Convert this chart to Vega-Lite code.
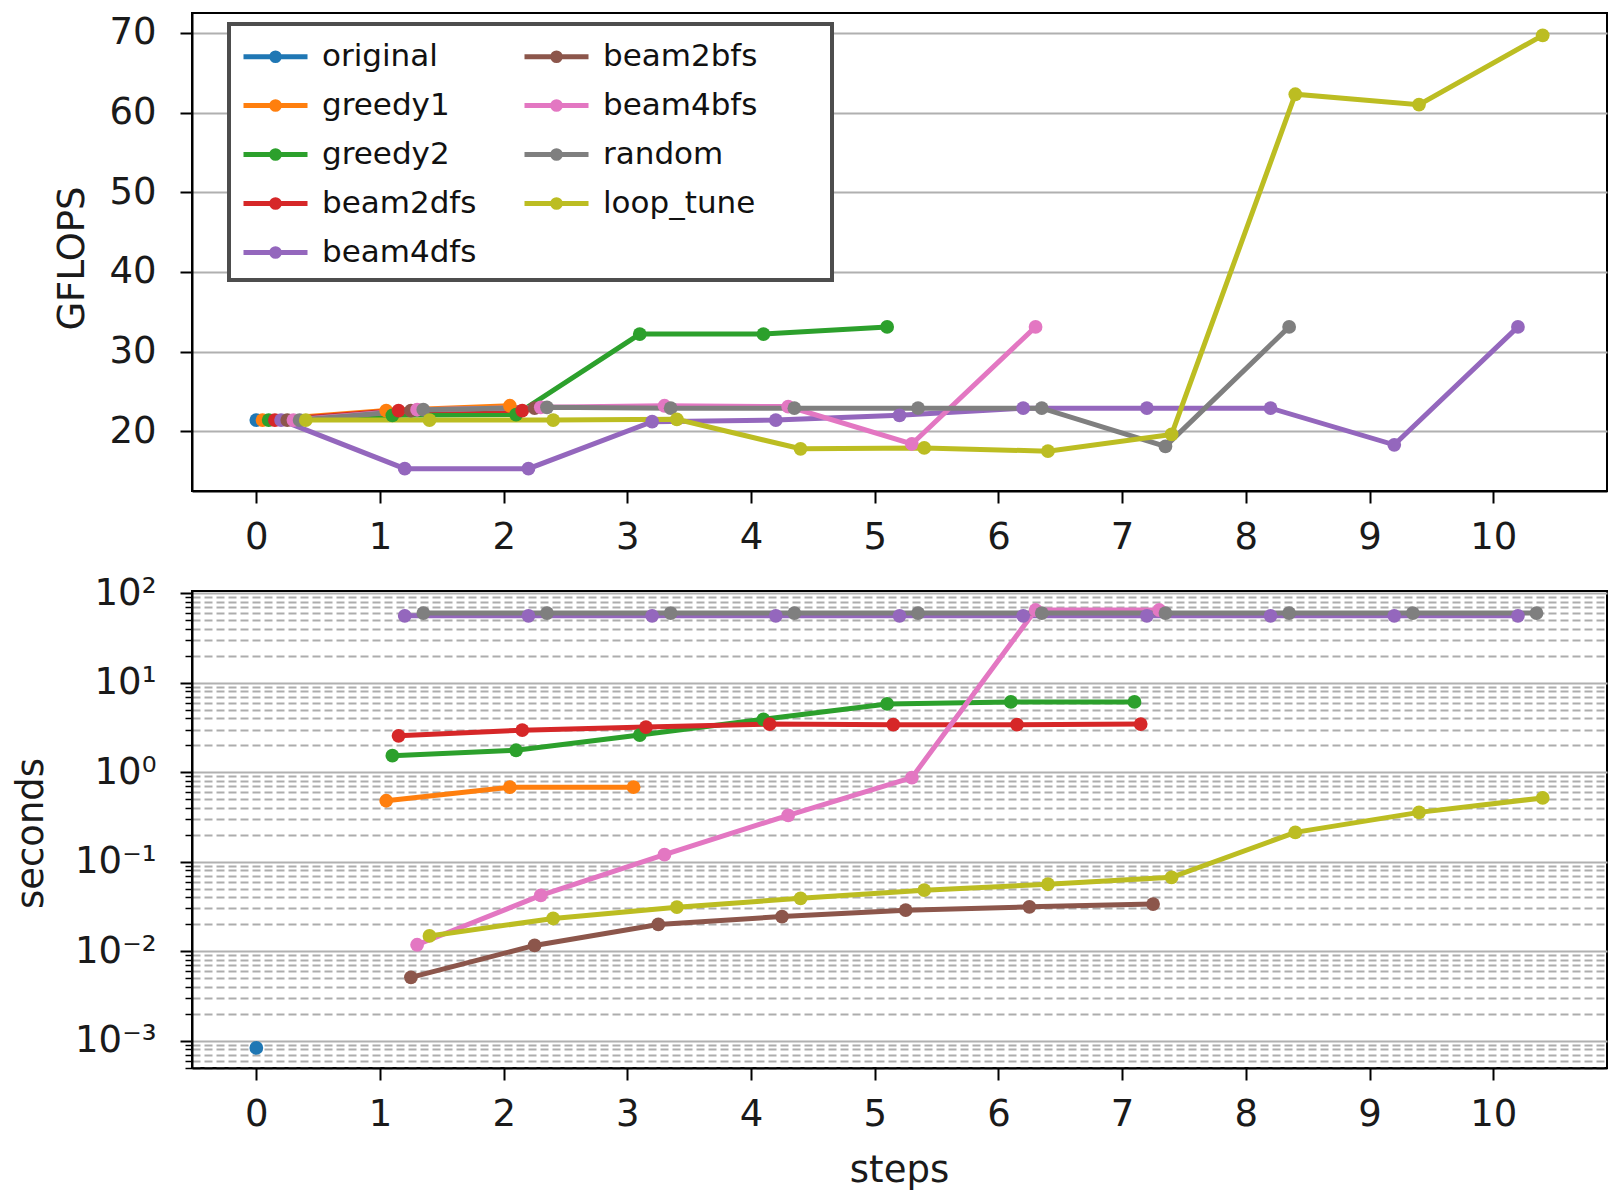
{
  "$schema": "https://vega.github.io/schema/vega-lite/v6.json",
  "background": "white",
  "padding": {"left": 10, "top": 12, "right": 9, "bottom": 5},
  "bounds": "flush",
  "spacing": 100,
  "config": {
    "font": "DejaVu Sans",
    "view": {"stroke": "black", "strokeWidth": 2},
    "axis": {
      "labelFont": "DejaVu Sans", "labelFontSize": 37, "labelColor": "#1a1a1a",
      "titleFont": "DejaVu Sans", "titleFontSize": 37, "titleFontWeight": "normal", "titleColor": "#1a1a1a",
      "tickColor": "black", "tickWidth": 2, "tickSize": 12,
      "domainColor": "black", "domainWidth": 2,
      "gridColor": "#b0b0b0", "gridWidth": 2
    }
  },
  "datasets": {
    "gflops": [
      {"method": "original", "x": 0, "gflops": 21.4},
      {"method": "greedy1", "x": 0.05, "gflops": 21.4},
      {"method": "greedy1", "x": 1.05, "gflops": 22.6},
      {"method": "greedy1", "x": 2.05, "gflops": 23.2},
      {"method": "greedy2", "x": 0.1, "gflops": 21.4},
      {"method": "greedy2", "x": 1.1, "gflops": 22.0},
      {"method": "greedy2", "x": 2.1, "gflops": 22.1},
      {"method": "greedy2", "x": 3.1, "gflops": 32.2},
      {"method": "greedy2", "x": 4.1, "gflops": 32.2},
      {"method": "greedy2", "x": 5.1, "gflops": 33.1},
      {"method": "beam2dfs", "x": 0.15, "gflops": 21.4},
      {"method": "beam2dfs", "x": 1.15, "gflops": 22.6},
      {"method": "beam2dfs", "x": 2.15, "gflops": 22.6},
      {"method": "beam4dfs", "x": 0.2, "gflops": 21.4},
      {"method": "beam4dfs", "x": 1.2, "gflops": 15.3},
      {"method": "beam4dfs", "x": 2.2, "gflops": 15.3},
      {"method": "beam4dfs", "x": 3.2, "gflops": 21.2},
      {"method": "beam4dfs", "x": 4.2, "gflops": 21.4},
      {"method": "beam4dfs", "x": 5.2, "gflops": 22.0},
      {"method": "beam4dfs", "x": 6.2, "gflops": 22.9},
      {"method": "beam4dfs", "x": 7.2, "gflops": 22.9},
      {"method": "beam4dfs", "x": 8.2, "gflops": 22.9},
      {"method": "beam4dfs", "x": 9.2, "gflops": 18.3},
      {"method": "beam4dfs", "x": 10.2, "gflops": 33.1},
      {"method": "beam2bfs", "x": 0.25, "gflops": 21.4},
      {"method": "beam2bfs", "x": 1.25, "gflops": 22.6},
      {"method": "beam2bfs", "x": 2.25, "gflops": 22.9},
      {"method": "beam4bfs", "x": 0.3, "gflops": 21.4},
      {"method": "beam4bfs", "x": 1.3, "gflops": 22.7},
      {"method": "beam4bfs", "x": 2.3, "gflops": 23.0},
      {"method": "beam4bfs", "x": 3.3, "gflops": 23.2},
      {"method": "beam4bfs", "x": 4.3, "gflops": 23.1},
      {"method": "beam4bfs", "x": 5.3, "gflops": 18.4},
      {"method": "beam4bfs", "x": 6.3, "gflops": 33.1},
      {"method": "random", "x": 0.35, "gflops": 21.4},
      {"method": "random", "x": 1.35, "gflops": 22.7},
      {"method": "random", "x": 2.35, "gflops": 23.0},
      {"method": "random", "x": 3.35, "gflops": 22.9},
      {"method": "random", "x": 4.35, "gflops": 22.9},
      {"method": "random", "x": 5.35, "gflops": 22.9},
      {"method": "random", "x": 6.35, "gflops": 22.9},
      {"method": "random", "x": 7.35, "gflops": 18.1},
      {"method": "random", "x": 8.35, "gflops": 33.1},
      {"method": "loop_tune", "x": 0.4, "gflops": 21.4},
      {"method": "loop_tune", "x": 1.4, "gflops": 21.4},
      {"method": "loop_tune", "x": 2.4, "gflops": 21.4},
      {"method": "loop_tune", "x": 3.4, "gflops": 21.5},
      {"method": "loop_tune", "x": 4.4, "gflops": 17.8},
      {"method": "loop_tune", "x": 5.4, "gflops": 17.9},
      {"method": "loop_tune", "x": 6.4, "gflops": 17.5},
      {"method": "loop_tune", "x": 7.4, "gflops": 19.6},
      {"method": "loop_tune", "x": 8.4, "gflops": 62.3},
      {"method": "loop_tune", "x": 9.4, "gflops": 61.0},
      {"method": "loop_tune", "x": 10.4, "gflops": 69.7}
    ],
    "seconds": [
      {"method": "original", "x": 0, "sec": 0.00083},
      {"method": "greedy1", "x": 1.05, "sec": 0.48},
      {"method": "greedy1", "x": 2.05, "sec": 0.68},
      {"method": "greedy1", "x": 3.05, "sec": 0.68},
      {"method": "greedy2", "x": 1.1, "sec": 1.53},
      {"method": "greedy2", "x": 2.1, "sec": 1.76},
      {"method": "greedy2", "x": 3.1, "sec": 2.6},
      {"method": "greedy2", "x": 4.1, "sec": 3.9},
      {"method": "greedy2", "x": 5.1, "sec": 5.8},
      {"method": "greedy2", "x": 6.1, "sec": 6.1},
      {"method": "greedy2", "x": 7.1, "sec": 6.1},
      {"method": "beam2dfs", "x": 1.15, "sec": 2.55},
      {"method": "beam2dfs", "x": 2.15, "sec": 2.95},
      {"method": "beam2dfs", "x": 3.15, "sec": 3.2},
      {"method": "beam2dfs", "x": 4.15, "sec": 3.45},
      {"method": "beam2dfs", "x": 5.15, "sec": 3.4},
      {"method": "beam2dfs", "x": 6.15, "sec": 3.4},
      {"method": "beam2dfs", "x": 7.15, "sec": 3.45},
      {"method": "beam4dfs", "x": 1.2, "sec": 56},
      {"method": "beam4dfs", "x": 2.2, "sec": 56},
      {"method": "beam4dfs", "x": 3.2, "sec": 56},
      {"method": "beam4dfs", "x": 4.2, "sec": 56},
      {"method": "beam4dfs", "x": 5.2, "sec": 56},
      {"method": "beam4dfs", "x": 6.2, "sec": 56},
      {"method": "beam4dfs", "x": 7.2, "sec": 56},
      {"method": "beam4dfs", "x": 8.2, "sec": 56},
      {"method": "beam4dfs", "x": 9.2, "sec": 56},
      {"method": "beam4dfs", "x": 10.2, "sec": 56},
      {"method": "beam2bfs", "x": 1.25, "sec": 0.0051},
      {"method": "beam2bfs", "x": 2.25, "sec": 0.0116},
      {"method": "beam2bfs", "x": 3.25, "sec": 0.0199},
      {"method": "beam2bfs", "x": 4.25, "sec": 0.0244},
      {"method": "beam2bfs", "x": 5.25, "sec": 0.0287},
      {"method": "beam2bfs", "x": 6.25, "sec": 0.0313},
      {"method": "beam2bfs", "x": 7.25, "sec": 0.0336},
      {"method": "beam4bfs", "x": 1.3, "sec": 0.0118},
      {"method": "beam4bfs", "x": 2.3, "sec": 0.042},
      {"method": "beam4bfs", "x": 3.3, "sec": 0.12},
      {"method": "beam4bfs", "x": 4.3, "sec": 0.33},
      {"method": "beam4bfs", "x": 5.3, "sec": 0.87},
      {"method": "beam4bfs", "x": 6.3, "sec": 65},
      {"method": "beam4bfs", "x": 7.3, "sec": 65},
      {"method": "random", "x": 1.35, "sec": 60},
      {"method": "random", "x": 2.35, "sec": 60},
      {"method": "random", "x": 3.35, "sec": 60},
      {"method": "random", "x": 4.35, "sec": 60},
      {"method": "random", "x": 5.35, "sec": 60},
      {"method": "random", "x": 6.35, "sec": 60},
      {"method": "random", "x": 7.35, "sec": 60},
      {"method": "random", "x": 8.35, "sec": 60},
      {"method": "random", "x": 9.35, "sec": 60},
      {"method": "random", "x": 10.35, "sec": 60},
      {"method": "loop_tune", "x": 1.4, "sec": 0.0148},
      {"method": "loop_tune", "x": 2.4, "sec": 0.0232},
      {"method": "loop_tune", "x": 3.4, "sec": 0.031},
      {"method": "loop_tune", "x": 4.4, "sec": 0.039},
      {"method": "loop_tune", "x": 5.4, "sec": 0.048},
      {"method": "loop_tune", "x": 6.4, "sec": 0.056},
      {"method": "loop_tune", "x": 7.4, "sec": 0.067},
      {"method": "loop_tune", "x": 8.4, "sec": 0.213},
      {"method": "loop_tune", "x": 9.4, "sec": 0.356},
      {"method": "loop_tune", "x": 10.4, "sec": 0.516}
    ]
  },
  "resolve": {"legend": {"color": "independent"}},
  "vconcat": [
    {
      "width": 1415,
      "height": 478,
      "data": {"name": "gflops"},
      "mark": {"type": "line", "strokeWidth": 5, "point": {"filled": true, "size": 190}},
      "encoding": {
        "x": {
          "field": "x", "type": "quantitative",
          "scale": {"domain": [-0.52, 10.92], "nice": false, "zero": false},
          "axis": {"values": [0, 1, 2, 3, 4, 5, 6, 7, 8, 9, 10], "grid": false, "title": null, "labelFlush": false, "labelPadding": 16}
        },
        "y": {
          "field": "gflops", "type": "quantitative",
          "scale": {"domain": [12.5, 72.5], "nice": false, "zero": false},
          "axis": {"values": [20, 30, 40, 50, 60, 70], "grid": true, "title": "GFLOPS", "titleX": -120, "titleY": 245, "titleBaseline": "middle", "labelPadding": 24}
        },
        "color": {
          "field": "method", "type": "nominal",
          "scale": {
            "domain": ["original", "greedy1", "greedy2", "beam2dfs", "beam4dfs", "beam2bfs", "beam4bfs", "random", "loop_tune"],
            "range": ["#1f77b4", "#ff7f0e", "#2ca02c", "#d62728", "#9467bd", "#8c564b", "#e377c2", "#7f7f7f", "#bcbd22"]
          },
          "legend": {
            "title": null, "orient": "none", "legendX": 37, "legendY": 11, "columns": 2,
            "strokeColor": "#4d4d4d", "fillColor": "white", "padding": 12,
            "labelFont": "DejaVu Sans", "labelFontSize": 31, "labelColor": "#111111", "labelLimit": 400,
            "labelExpr": "datum.label + (indexof(['beam2bfs','beam4bfs','random','loop_tune'], datum.label) >= 0 ? '\u00a0\u00a0\u00a0\u00a0\u2800' : '')",
            "symbolType": "M-1,0H2.556M0.565,0A0.213,0.213,0,1,1,0.991,0A0.213,0.213,0,1,1,0.565,0Z",
            "symbolSize": 1296, "symbolStrokeWidth": 5, "symbolOpacity": 1,
            "labelOffset": 40, "columnPadding": 37, "rowPadding": 13,
            "encode": {"legend": {"update": {"strokeWidth": {"value": 4}}}}
          }
        }
      }
    },
    {
      "width": 1415,
      "height": 477,
      "data": {"name": "seconds"},
      "resolve": {"axis": {"y": "independent"}},
      "layer": [
        {
          "mark": {"type": "point", "opacity": 0},
          "encoding": {
            "x": {
              "field": "x", "type": "quantitative",
              "scale": {"domain": [-0.52, 10.92], "nice": false, "zero": false},
              "axis": {"values": [0, 1, 2, 3, 4, 5, 6, 7, 8, 9, 10], "grid": false, "title": "steps", "titleX": 707, "titleY": 102, "titleBaseline": "middle", "labelFlush": false, "labelPadding": 16}
            },
            "y": {
              "field": "sec", "type": "quantitative",
              "scale": {"type": "log", "domain": [0.000495, 106], "nice": false},
              "axis": {
                "orient": "left",
                "values": [0.0005, 0.0006, 0.0007, 0.0008, 0.0009, 0.002, 0.003, 0.004, 0.005, 0.006, 0.007, 0.008, 0.009, 0.02, 0.03, 0.04, 0.05, 0.06, 0.07, 0.08, 0.09, 0.2, 0.3, 0.4, 0.5, 0.6, 0.7, 0.8, 0.9, 2, 3, 4, 5, 6, 7, 8, 9, 20, 30, 40, 50, 60, 70, 80, 90],
                "grid": true, "gridDash": [8, 4], "gridWidth": 1.8, "gridColor": "#adadad",
                "labels": false, "domain": false, "tickSize": 7, "tickWidth": 1.5, "title": null
              }
            }
          }
        },
        {
          "mark": {"type": "line", "strokeWidth": 5, "point": {"filled": true, "size": 190}},
          "encoding": {
            "x": {
              "field": "x", "type": "quantitative",
              "scale": {"domain": [-0.52, 10.92], "nice": false, "zero": false},
              "axis": {"values": [0, 1, 2, 3, 4, 5, 6, 7, 8, 9, 10], "grid": false, "title": "steps", "titleX": 707, "titleY": 102, "titleBaseline": "middle", "labelFlush": false, "labelPadding": 16}
            },
            "y": {
              "field": "sec", "type": "quantitative",
              "scale": {"type": "log", "domain": [0.000495, 106], "nice": false},
              "axis": {
                "orient": "left",
                "values": [0.001, 0.01, 0.1, 1, 10, 100],
                "labelExpr": "datum.value == 100 ? '10²' : datum.value == 10 ? '10¹' : datum.value == 1 ? '10⁰' : datum.value == 0.1 ? '10⁻¹' : datum.value == 0.01 ? '10⁻²' : '10⁻³'",
                "grid": true, "labelOverlap": false,
                "title": "seconds", "titleX": -161, "titleY": 242, "titleBaseline": "middle", "labelPadding": 24
              }
            },
            "color": {
              "field": "method", "type": "nominal",
              "scale": {
                "domain": ["original", "greedy1", "greedy2", "beam2dfs", "beam4dfs", "beam2bfs", "beam4bfs", "random", "loop_tune"],
                "range": ["#1f77b4", "#ff7f0e", "#2ca02c", "#d62728", "#9467bd", "#8c564b", "#e377c2", "#7f7f7f", "#bcbd22"]
              },
              "legend": null
            }
          }
        }
      ]
    }
  ]
}
